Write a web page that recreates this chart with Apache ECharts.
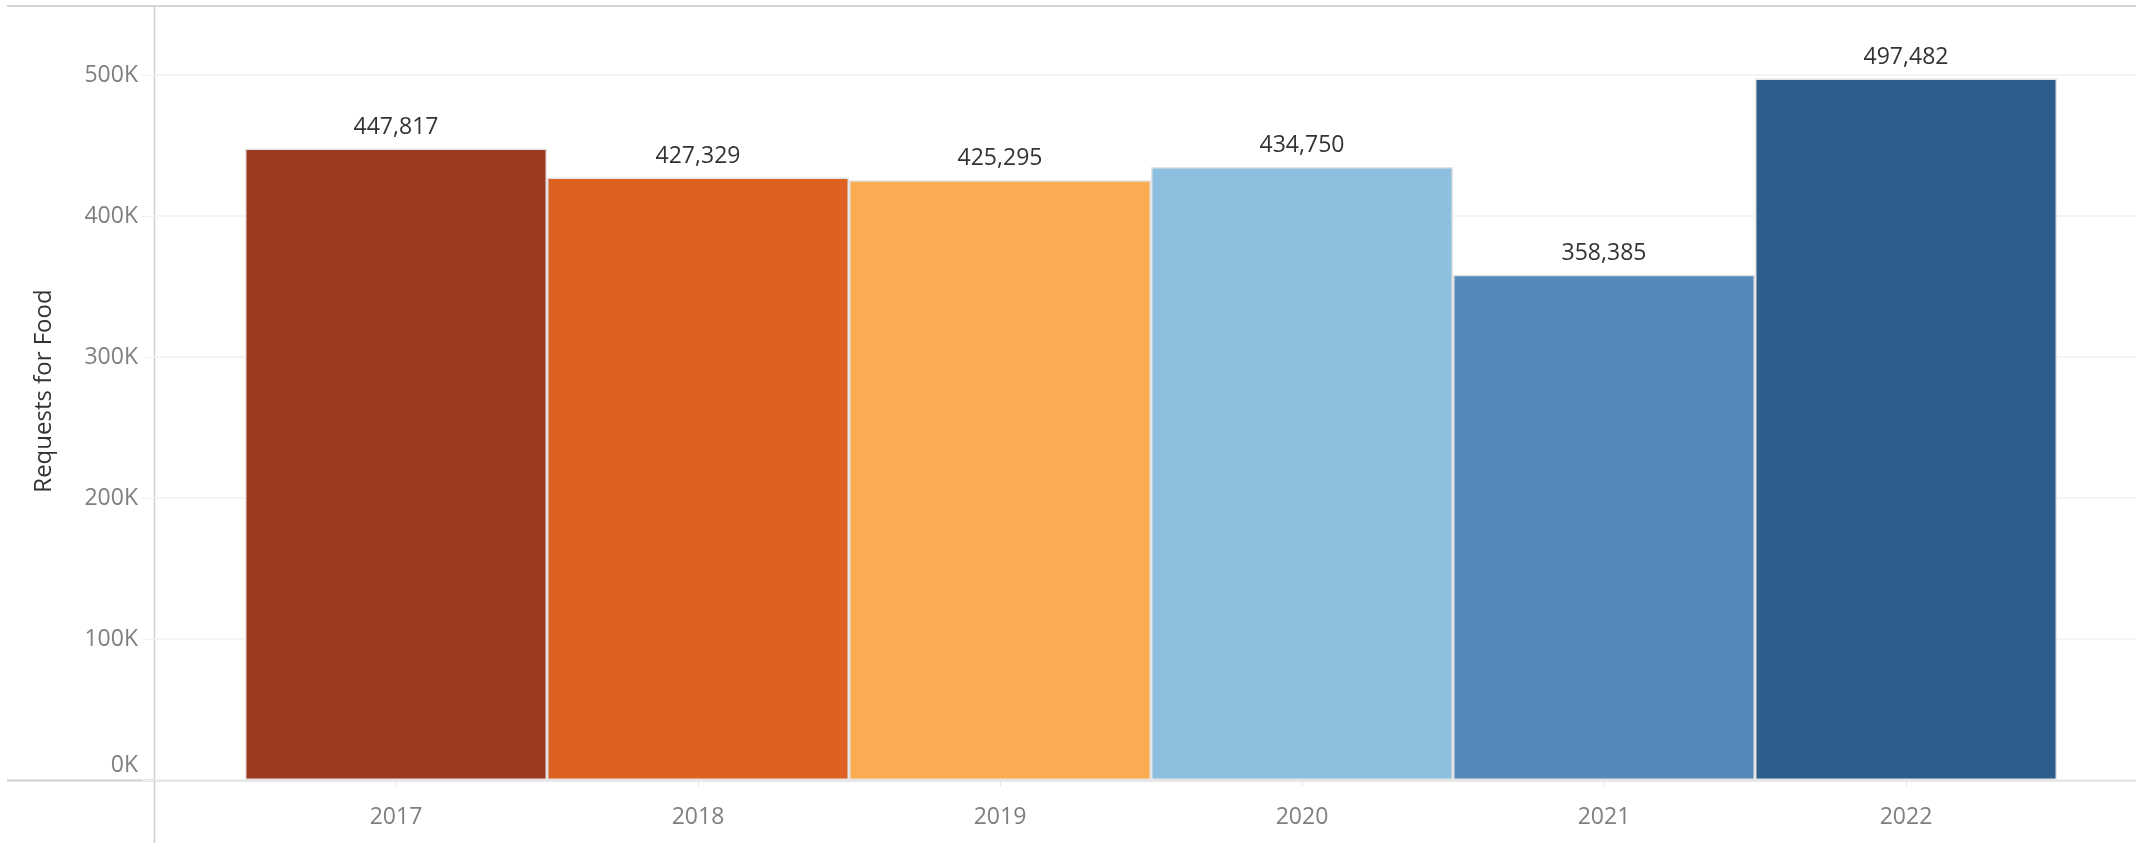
<!DOCTYPE html>
<html>
<head>
<meta charset="utf-8">
<title>Requests for Food</title>
<script src="https://cdn.jsdelivr.net/npm/echarts@6/dist/echarts.min.js"></script>
<style>
  html, body { margin: 0; padding: 0; background: #fff; }
  #chart { width: 2136px; height: 843px; }
</style>
</head>
<body>
<div id="chart"></div>
<script>
const years = ['2017', '2018', '2019', '2020', '2021', '2022']
const requests = [447817, 427329, 425295, 434750, 358385, 497482]
const barColors = ['#9c3a21', '#dd6121', '#fbab51', '#8dbfdf', '#5589b9', '#2d5d8a']
const yTicks = { min: 0, max: 500000, interval: 100000 }

const font = '"Open Sans", "Noto Sans", sans-serif'

const chart = echarts.init(document.getElementById('chart'))

const option = {
  animation: false,
  backgroundColor: '#fff',
  grid: [
    // background grid: gridlines + value labels across full width
    { left: 154, right: 0, top: 75, bottom: 63 },
    // bars
    { left: 245, right: 79, top: 75, bottom: 63 }
  ],
  xAxis: [
    {
      type: 'category',
      gridIndex: 0,
      data: [],
      show: false
    },
    {
      type: 'category',
      gridIndex: 1,
      data: years,
      axisLine: { show: false },
      axisTick: {
        show: true,
        alignWithLabel: true,
        length: 6,
        lineStyle: { color: '#e6e6e6' }
      },
      axisLabel: {
        color: '#7f7f7f',
        fontFamily: font,
        fontSize: 23,
        margin: 26
      }
    }
  ],
  yAxis: [
    {
      type: 'value',
      gridIndex: 0,
      min: yTicks.min,
      max: yTicks.max,
      interval: yTicks.interval,
      axisLine: { show: false },
      axisTick: { show: true, length: 12, lineStyle: { color: '#f0f0f0' } },
      splitLine: { show: true, lineStyle: { color: '#f0f0f0', width: 1.5 } },
      axisLabel: {
        color: '#7f7f7f',
        fontFamily: font,
        fontSize: 23,
        margin: 16,
        // Tableau lifts the bottom label above the baseline
        formatter: v => v === 0 ? '{low|0K}' : (v / 1000) + 'K',
        rich: {
          low: {
            color: '#7f7f7f',
            fontFamily: font,
            fontSize: 23,
            padding: [0, 0, 30, 0]
          }
        }
      }
    },
    {
      type: 'value',
      gridIndex: 1,
      min: yTicks.min,
      max: yTicks.max,
      interval: yTicks.interval,
      show: false,
      splitLine: { show: false }
    }
  ],
  series: [{
    type: 'bar',
    xAxisIndex: 1,
    yAxisIndex: 1,
    barCategoryGap: 0,
    data: requests.map((v, i) => ({
      value: v,
      itemStyle: { color: barColors[i] }
    })),
    itemStyle: {
      borderColor: '#e4e4e4',
      borderWidth: 1.5
    },
    label: {
      show: true,
      position: 'top',
      distance: 10,
      color: '#333',
      fontFamily: font,
      fontSize: 23,
      formatter: p => p.value.toLocaleString('en-US')
    }
  }],
  graphic: [
    // top border
    { type: 'line', shape: { x1: 7, y1: 6, x2: 2136, y2: 6 }, style: { stroke: '#d4d4d4', lineWidth: 2 } },
    // vertical axis line
    { type: 'line', shape: { x1: 154.5, y1: 7, x2: 154.5, y2: 843 }, style: { stroke: '#cfcfcf', lineWidth: 1.5 } },
    // baseline
    { type: 'line', shape: { x1: 7, y1: 780.5, x2: 2136, y2: 780.5 }, style: { stroke: '#cfcfcf', lineWidth: 2 } },
    {
      type: 'text',
      x: 44,
      y: 391,
      rotation: Math.PI / 2,
      style: {
        text: 'Requests for Food',
        fill: '#333',
        font: '24px ' + font,
        align: 'center',
        verticalAlign: 'middle'
      }
    }
  ]
}

chart.setOption(option)

window.addEventListener('resize', () => chart.resize())
</script>
</body>
</html>
